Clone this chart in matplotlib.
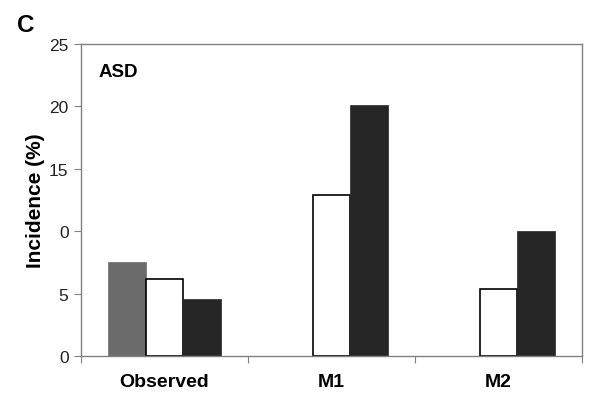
import matplotlib
matplotlib.use("Agg")
import matplotlib.pyplot as plt
import numpy as np

plt.rcParams['font.family'] = ['Liberation Sans', 'DejaVu Sans']

# --- data ---
categories = ["Observed", "M1", "M2"]
observed = [7.5, 0, 0]
white_series = [6.2, 12.9, 5.4]
black_series = [4.6, 20.1, 10.0]
y_ticks = [0, 5, 10, 15, 20, 25]
y_tick_labels = ["0", "5", "0", "15", "20", "25"]

fig = plt.figure(figsize=(6.0, 4.02), dpi=100)
ax = fig.add_axes([81 / 600, 1 - 357 / 402, (582 - 81) / 600, (357 - 45) / 402])

x = np.arange(len(categories))
w = 0.227
ax.bar(x - w, observed, w, color="#6b6b6b", edgecolor="#6b6b6b", linewidth=0.5)
ax.bar(x, white_series, w, color="white", edgecolor="black", linewidth=1.2)
ax.bar(x + w, black_series, w, color="#262626", edgecolor="#262626", linewidth=0.5)

ax.set_xlim(-0.5, len(categories) - 0.5)
ax.set_ylim(0, 25)
ax.set_yticks(y_ticks)
ax.set_yticklabels(y_tick_labels, fontsize=12.5, color="#222222")

# category labels centred, ticks at group boundaries
ax.set_xticks(np.arange(len(categories) + 1) - 0.5)
ax.set_xticklabels([])
ax.set_xticks(x, minor=True)
ax.set_xticklabels(categories, minor=True, fontsize=14, fontweight="bold")
ax.tick_params(axis="x", which="minor", length=0, pad=12)
ax.tick_params(axis="x", which="major", length=5, color="#808080", direction="out")
ax.tick_params(axis="y", length=5, color="#808080", direction="out", pad=4)

for s in ax.spines.values():
    s.set_color("#808080")
    s.set_linewidth(1.0)

ax.set_ylabel("Incidence (%)", fontsize=15, fontweight="bold", labelpad=3)
ax.text(0.034, 0.897, "ASD", transform=ax.transAxes, fontsize=13.5, fontweight="bold",
        va="baseline")
fig.text(17 / 600, 1 - 32 / 402, "C", fontsize=17.5, fontweight="bold", va="baseline")

fig.savefig("out.png", dpi=100)
